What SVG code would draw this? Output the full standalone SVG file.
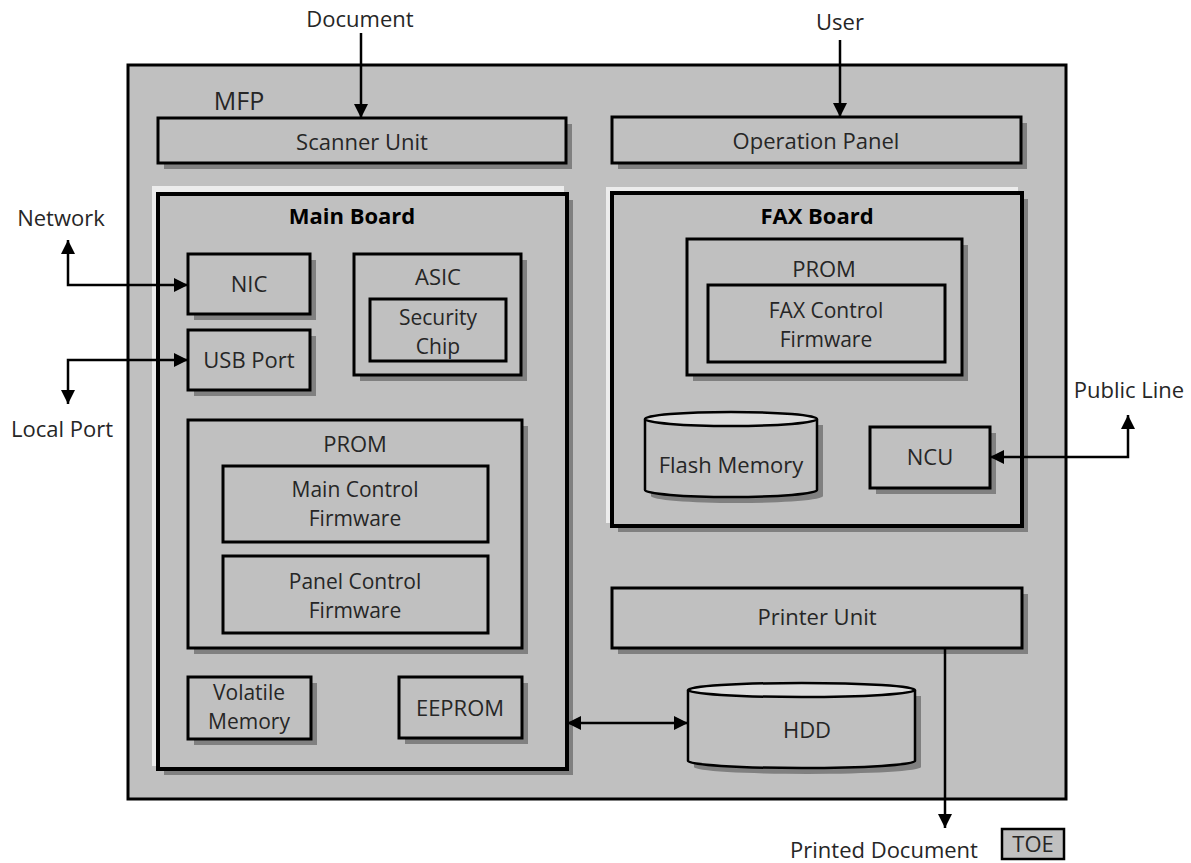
<svg xmlns="http://www.w3.org/2000/svg" width="1191" height="863" viewBox="0 0 1191 863">
<defs>
<style>
text{font-family:"Open Sans","Noto Sans","DejaVu Sans",sans-serif;font-size:22px;fill:#262626;text-anchor:middle}
text.two{font-size:21px}
.b{fill:#c0c0c0;stroke:#000;stroke-width:3}
.bb{fill:#c0c0c0;stroke:#000;stroke-width:4}
.s{fill:#808080}
.hl{fill:#ececec}
.top{fill:#dcdcdc;stroke:#000;stroke-width:2.5}
.cyl{fill:#c0c0c0;stroke:#000;stroke-width:2.5}
.c{fill:none;stroke:#000;stroke-width:2.5}
.bold{font-weight:bold;fill:#000}
</style>
<marker id="ah" viewBox="0 0 10 10" refX="10" refY="5" markerWidth="14" markerHeight="14" markerUnits="userSpaceOnUse" orient="auto-start-reverse">
<path d="M0,0 L10,5 L0,10 z" fill="#000"/>
</marker>
</defs>
<rect width="1191" height="863" fill="#fff"/>

<g id="mfp">
<rect x="128" y="65" width="938" height="734" class="b"/>
<text x="239" y="110" style="font-size:25px">MFP</text>
</g>

<g id="scanner-unit">
<rect x="164" y="124" width="408" height="45" class="s"/>
<rect x="158" y="118" width="408" height="45" class="b"/>
<text x="362" y="150">Scanner Unit</text>
</g>

<g id="operation-panel">
<rect x="618" y="123" width="409" height="46" class="s"/>
<rect x="612" y="117" width="409" height="46" class="b"/>
<text x="816" y="149">Operation Panel</text>
</g>

<g id="main-board">
<rect x="152" y="186" width="412" height="580" class="hl"/>
<rect x="164" y="200" width="409" height="575" class="s"/>
<rect x="158" y="194" width="409" height="575" class="bb"/>
<text x="352" y="224" class="bold">Main Board</text>
</g>

<g id="nic">
<rect x="194" y="260" width="122" height="60" class="s"/>
<rect x="188" y="254" width="122" height="60" class="b"/>
<text x="249" y="292">NIC</text>
</g>

<g id="usb-port">
<rect x="194" y="336" width="122" height="60" class="s"/>
<rect x="188" y="330" width="122" height="60" class="b"/>
<text x="249" y="368">USB Port</text>
</g>

<g id="asic">
<rect x="360" y="260" width="167" height="121" class="s"/>
<rect x="354" y="254" width="167" height="121" class="b"/>
<text x="438" y="285">ASIC</text>
</g>

<g id="security-chip">
<rect x="370" y="299" width="136" height="62" class="b"/>
<text class="two" x="438" y="325">Security<tspan x="438" dy="29">Chip</tspan></text>
</g>

<g id="prom-main">
<rect x="194" y="426" width="334" height="228" class="s"/>
<rect x="188" y="420" width="334" height="228" class="b"/>
<text x="355" y="452">PROM</text>
</g>

<g id="main-control-firmware">
<rect x="223" y="466" width="265" height="76" class="b"/>
<text class="two" x="355" y="497">Main Control<tspan x="355" dy="29">Firmware</tspan></text>
</g>

<g id="panel-control-firmware">
<rect x="223" y="556" width="265" height="77" class="b"/>
<text class="two" x="355" y="589">Panel Control<tspan x="355" dy="29">Firmware</tspan></text>
</g>

<g id="volatile-memory">
<rect x="194" y="683" width="123" height="62" class="s"/>
<rect x="188" y="677" width="123" height="62" class="b"/>
<text class="two" x="249" y="700">Volatile<tspan x="249" dy="29">Memory</tspan></text>
</g>

<g id="eeprom">
<rect x="405" y="683" width="123" height="61" class="s"/>
<rect x="399" y="677" width="123" height="61" class="b"/>
<text x="460" y="716">EEPROM</text>
</g>

<g id="fax-board">
<rect x="606" y="187" width="412" height="336" class="hl"/>
<rect x="618" y="199" width="410" height="333" class="s"/>
<rect x="612" y="193" width="410" height="333" class="bb"/>
<text x="817" y="224" class="bold">FAX Board</text>
</g>

<g id="prom-fax">
<rect x="693" y="245" width="275" height="136" class="s"/>
<rect x="687" y="239" width="275" height="136" class="b"/>
<text x="824" y="277">PROM</text>
</g>

<g id="fax-control-firmware">
<rect x="708" y="285" width="237" height="77" class="b"/>
<text class="two" x="826" y="318">FAX Control<tspan x="826" dy="29">Firmware</tspan></text>
</g>

<g id="flash-memory">
<path d="M651,425 L651,496 A86,7 0 0 0 823,496 L823,425 Z" class="s"/>
<path d="M645,419 L645,490 A86,7 0 0 0 817,490 L817,419" class="cyl"/>
<ellipse cx="731" cy="419" rx="86" ry="7" class="top"/>
<text x="731" y="473">Flash Memory</text>
</g>

<g id="ncu">
<rect x="876" y="433" width="120" height="61" class="s"/>
<rect x="870" y="427" width="120" height="61" class="b"/>
<text x="930" y="465">NCU</text>
</g>

<g id="printer-unit">
<rect x="618" y="594" width="410" height="60" class="s"/>
<rect x="612" y="588" width="410" height="60" class="b"/>
<text x="817" y="625">Printer Unit</text>
</g>

<g id="hdd">
<path d="M694,696 L694,767 A113.5,7 0 0 0 921,767 L921,696 Z" class="s"/>
<path d="M688,690 L688,761 A113.5,7 0 0 0 915,761 L915,690" class="cyl"/>
<ellipse cx="801.5" cy="690" rx="113.5" ry="7" class="top"/>
<text x="807" y="738">HDD</text>
</g>

<g id="labels">
<text x="360" y="27">Document</text>
<text x="840" y="30">User</text>
<text x="61" y="226">Network</text>
<text x="62" y="437">Local Port</text>
<text x="1129" y="398">Public Line</text>
<text x="884" y="858">Printed Document</text>
</g>

<g id="toe-legend">
<rect x="1002" y="829" width="62" height="30" fill="#c0c0c0" stroke="#000" stroke-width="2.5"/>
<text x="1033" y="852">TOE</text>
</g>

<g id="connectors">
<line x1="361" y1="33" x2="361" y2="118" class="c" marker-end="url(#ah)"/>
<line x1="840" y1="40" x2="840" y2="117" class="c" marker-end="url(#ah)"/>
<polyline points="68,240 68,285 188,285" class="c" marker-start="url(#ah)" marker-end="url(#ah)"/>
<polyline points="68,404 68,360 188,360" class="c" marker-start="url(#ah)" marker-end="url(#ah)"/>
<polyline points="1128,415 1128,457 990,457" class="c" marker-start="url(#ah)" marker-end="url(#ah)"/>
<line x1="567" y1="723" x2="688" y2="723" class="c" marker-start="url(#ah)" marker-end="url(#ah)"/>
<line x1="945" y1="648" x2="945" y2="828" class="c" marker-end="url(#ah)"/>
</g>
</svg>
